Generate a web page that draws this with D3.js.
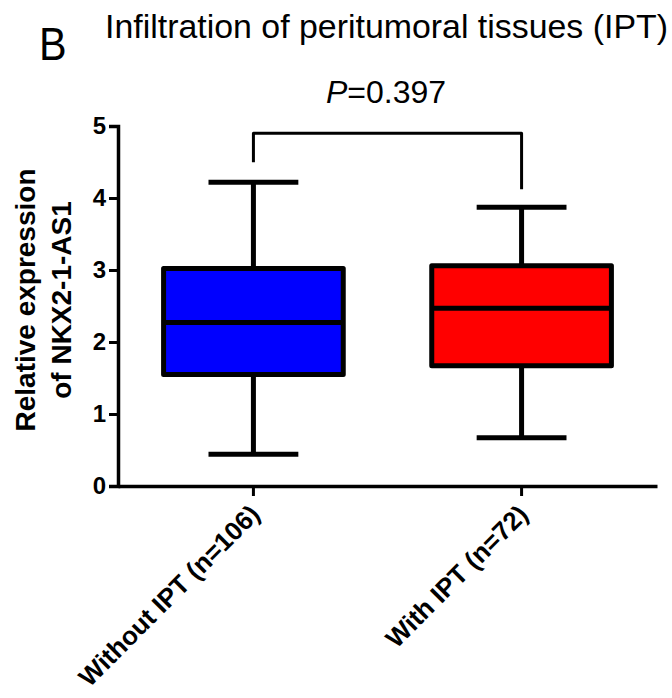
<!DOCTYPE html>
<html>
<head>
<meta charset="utf-8">
<script src="https://cdn.jsdelivr.net/npm/d3@7"></script>
<style>
body { margin: 0; background: #fff; }
svg { display: block; font-family: "Liberation Sans", Arial, sans-serif; }
</style>
</head>
<body>
<div id="chart"></div>
<script>
// groups and box statistics
var groups = ["Without IPT (n=106)", "With IPT (n=72)"];
var colors = ["#0000ff", "#ff0000"];
var mins = [0.44, 0.67];
var q1s = [1.55, 1.67];
var medians = [2.27, 2.47];
var q3s = [3.02, 3.06];
var maxs = [4.22, 3.87];
var yTicks = [0, 1, 2, 3, 4, 5];
var pText = "0.397";

var W = 672, H = 698;
var margin = { top: 126, left: 118, right: 15, bottom: 212 };
var width = W - margin.left - margin.right,
    height = H - margin.top - margin.bottom;

var svg = d3.select("#chart").append("svg")
    .attr("width", W).attr("height", H);

// titles
svg.append("text").attr("transform", "translate(39,60) scale(0.9,1)")
    .style("font-size", "46px").text("B");
svg.append("text").attr("x", 105).attr("y", 38)
    .attr("textLength", 563).attr("lengthAdjust", "spacingAndGlyphs")
    .style("font-size", "34px").text("Infiltration of peritumoral tissues (IPT)");
var pt = svg.append("text").attr("x", 386).attr("y", 103)
    .attr("text-anchor", "middle").style("font-size", "32px");
pt.append("tspan").style("font-style", "italic").text("P");
pt.append("tspan").text("=" + pText);

var g = svg.append("g")
    .attr("transform", "translate(" + margin.left + "," + margin.top + ")");

var x = d3.scaleBand().domain(groups).range([0, width]).paddingInner(0.33).paddingOuter(0.17);
var y = d3.scaleLinear().domain([0, 5]).range([height, 0]);

// y axis
var yAxis = g.append("g")
    .call(d3.axisLeft(y).tickValues(yTicks).tickFormat(d3.format("d")).tickSize(9).tickPadding(3));
yAxis.select(".domain").attr("stroke-width", 3.5);
yAxis.selectAll(".tick line").attr("stroke-width", 3);
yAxis.selectAll(".tick text").style("font-size", "24px").style("font-weight", "bold")
    .style("font-family", "Liberation Sans, Arial, sans-serif");

// x axis
var xAxis = g.append("g").attr("transform", "translate(0," + height + ")")
    .call(d3.axisBottom(x).tickSize(10).tickSizeOuter(0));
xAxis.select(".domain").attr("stroke-width", 3.5);
xAxis.selectAll(".tick line").attr("stroke-width", 3);
xAxis.selectAll(".tick text")
    .style("font-size", "26px").style("font-weight", "bold")
    .style("font-family", "Liberation Sans, Arial, sans-serif")
    .attr("text-anchor", "end")
    .attr("dy", 0).attr("dx", 0).attr("y", 0)
    .attr("transform", "translate(8,30) rotate(-45)");

// y label
svg.append("text")
    .attr("transform", "translate(35,300) rotate(-90)")
    .attr("text-anchor", "middle")
    .style("font-size", "28px").style("font-weight", "bold")
    .text("Relative expression");
svg.append("text")
    .attr("transform", "translate(71,300) rotate(-90)")
    .attr("text-anchor", "middle")
    .style("font-size", "28px").style("font-weight", "bold")
    .text("of NKX2-1-AS1");

// boxes
var data = groups.map(function (d, i) {
    return { name: d, color: colors[i], min: mins[i], q1: q1s[i], med: medians[i], q3: q3s[i], max: maxs[i] };
});
var bw = x.bandwidth();
var capW = bw * 0.5;

var box = g.selectAll(".box").data(data).enter().append("g")
    .attr("transform", function (d) { return "translate(" + (x(d.name) + bw / 2) + ",0)"; });

box.append("line")
    .attr("y1", function (d) { return y(d.max); })
    .attr("y2", function (d) { return y(d.min); })
    .attr("stroke", "#000").attr("stroke-width", 5);
box.append("line").attr("x1", -capW / 2).attr("x2", capW / 2)
    .attr("y1", function (d) { return y(d.max); }).attr("y2", function (d) { return y(d.max); })
    .attr("stroke", "#000").attr("stroke-width", 5);
box.append("line").attr("x1", -capW / 2).attr("x2", capW / 2)
    .attr("y1", function (d) { return y(d.min); }).attr("y2", function (d) { return y(d.min); })
    .attr("stroke", "#000").attr("stroke-width", 5);
box.append("rect")
    .attr("x", -bw / 2).attr("width", bw)
    .attr("y", function (d) { return y(d.q3); })
    .attr("height", function (d) { return y(d.q1) - y(d.q3); })
    .attr("fill", function (d) { return d.color; })
    .attr("stroke", "#000").attr("stroke-width", 5).attr("stroke-linejoin", "round");
box.append("line").attr("x1", -bw / 2).attr("x2", bw / 2)
    .attr("y1", function (d) { return y(d.med); }).attr("y2", function (d) { return y(d.med); })
    .attr("stroke", "#000").attr("stroke-width", 5);

// significance bracket
var bx1 = x(groups[0]) + bw / 2, bx2 = x(groups[1]) + bw / 2;
var by = y(4.9);
g.append("path")
    .attr("d", "M" + bx1 + "," + (y(maxs[0]) - 20) + "V" + by + "H" + bx2 + "V" + (y(maxs[1]) - 18))
    .attr("fill", "none").attr("stroke", "#000").attr("stroke-width", 3).attr("stroke-linejoin", "round");
</script>
</body>
</html>
